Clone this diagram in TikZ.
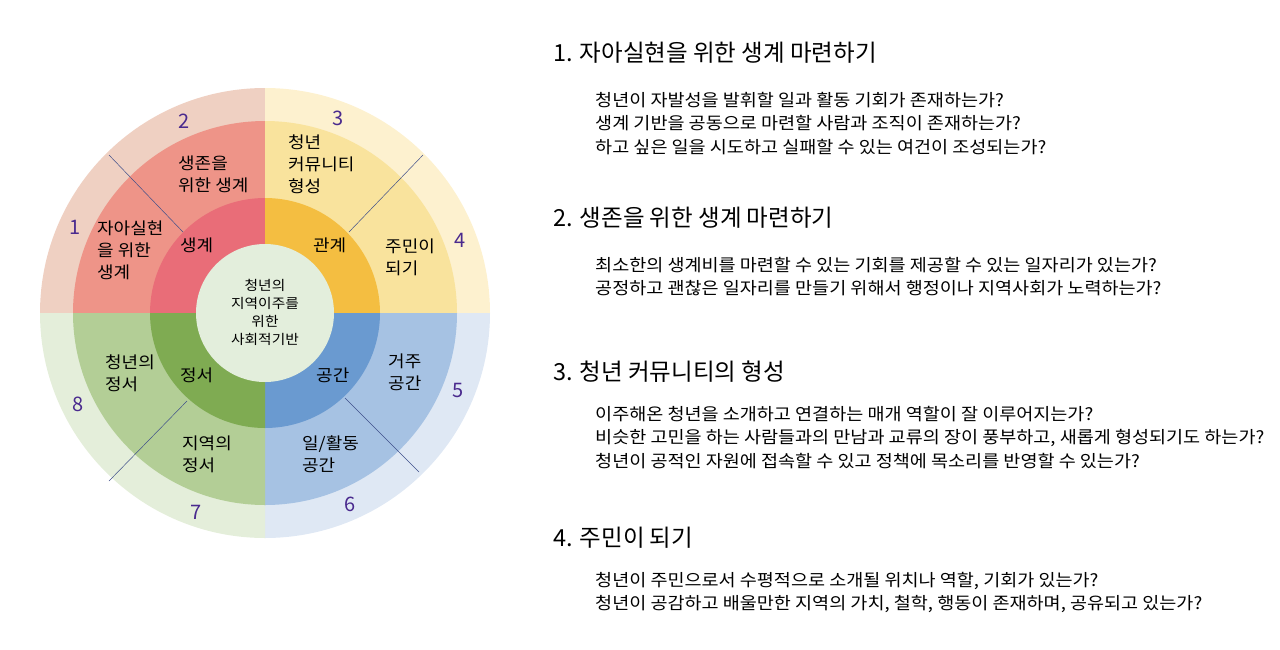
\documentclass[tikz,border=0pt]{standalone}
\usepackage{fontspec}
\setmainfont{Noto Sans CJK KR}
\newfontfamily\widefont[FakeStretch=1.09]{Noto Sans CJK KR}
\begin{document}
\begin{tikzpicture}[x=1pt,y=-1pt,
  lbl/.style={font=\widefont\fontsize{16.5}{22}\selectfont,align=left,anchor=west,inner sep=0},
  num/.style={font=\fontsize{20}{20}\selectfont,text=numc,inner sep=0},
  head/.style={font=\fontsize{23.5}{24}\selectfont,anchor=west,inner sep=0},
  body/.style={font=\widefont\fontsize{17}{23.5}\selectfont,align=left,anchor=north west,inner sep=0},
  sep/.style={draw=sepc,line width=0.5pt}]
\definecolor{numc}{HTML}{4A2A8E}\definecolor{sepc}{HTML}{3F4F8A}
\definecolor{oA}{HTML}{EFD0C2}\definecolor{mA}{HTML}{EE9488}\definecolor{iA}{HTML}{E96D78}
\definecolor{oB}{HTML}{FDF1CF}\definecolor{mB}{HTML}{F9E39D}\definecolor{iB}{HTML}{F4BE41}
\definecolor{oC}{HTML}{DFE8F4}\definecolor{mC}{HTML}{A6C2E3}\definecolor{iC}{HTML}{6A9AD0}
\definecolor{oD}{HTML}{E4EEDA}\definecolor{mD}{HTML}{B3CE96}\definecolor{iD}{HTML}{7FAB52}
\definecolor{cc}{HTML}{E3EEDC}
\useasboundingbox (0,0) rectangle (1280,649);
\coordinate (c) at (265,313);
\newcommand\myquad[4]{\fill[#1] (c) -- ++(#2:#4) arc[start angle=#2,end angle=#3,radius=#4] -- cycle;}
\myquad{oA}{180}{270}{225}\myquad{oB}{270}{360}{225}\myquad{oC}{0}{90}{225}\myquad{oD}{90}{180}{225}
\myquad{mA}{180}{270}{192}\myquad{mB}{270}{360}{192}\myquad{mC}{0}{90}{192}\myquad{mD}{90}{180}{192}
\myquad{iA}{180}{270}{115}\myquad{iB}{270}{360}{115}\myquad{iC}{0}{90}{115}\myquad{iD}{90}{180}{115}
\fill[cc] (c) circle[radius=69];
\coordinate (a1) at (109,155);\coordinate (b1) at (183,232);
\coordinate (a2) at (423,155);\coordinate (b2) at (349,232);
\coordinate (a3) at (109,481);\coordinate (b3) at (187,401);
\coordinate (a4) at (419,472);\coordinate (b4) at (345,398);
\draw[sep] (a1)--(b1); \draw[sep] (a2)--(b2); \draw[sep] (a3)--(b3); \draw[sep] (a4)--(b4);
\node[font=\widefont\fontsize{13.5}{18}\selectfont,align=center] (ctr) at (265,312) {청년의\\지역이주를\\위한\\사회적기반};
\node[lbl] (g1) at (180,245) {생계};
\node[lbl] (g2) at (313,245) {관계};
\node[lbl] (g3) at (180,375) {정서};
\node[lbl] (g4) at (316,375) {공간};
\node[lbl] (s2) at (178,174) {생존을\\위한 생계};
\node[lbl] (s1) at (97,250) {자아실현\\을 위한\\생계};
\node[lbl] (s3) at (288,164) {청년\\커뮤니티\\형성};
\node[lbl] (s4) at (385,257) {주민이\\되기};
\node[lbl] (s5) at (388,372) {거주\\공간};
\node[lbl] (s6) at (302,454) {일/활동\\공간};
\node[lbl] (s7) at (182,454) {지역의\\정서};
\node[lbl] (s8) at (105,373) {청년의\\정서};
\node[num] (n1) at (75,227) {1};\node[num] (n2) at (184,121) {2};
\node[num] (n3) at (338,118) {3};\node[num] (n4) at (460,240) {4};
\node[num] (n5) at (458,390) {5};\node[num] (n6) at (350,504) {6};
\node[num] (n7) at (196,512) {7};\node[num] (n8) at (78,404) {8};
\node[head] (h1) at (553,53) {1. 자아실현을 위한 생계 마련하기};
\node[body] (t1) at (595,92) {청년이 자발성을 발휘할 일과 활동 기회가 존재하는가?\\생계 기반을 공동으로 마련할 사람과 조직이 존재하는가?\\하고 싶은 일을 시도하고 실패할 수 있는 여건이 조성되는가?};
\node[head] (h2) at (553,218) {2. 생존을 위한 생계 마련하기};
\node[body] (t2) at (595,257) {최소한의 생계비를 마련할 수 있는 기회를 제공할 수 있는 일자리가 있는가?\\공정하고 괜찮은 일자리를 만들기 위해서 행정이나 지역사회가 노력하는가?};
\node[head] (h3) at (553,372) {3. 청년 커뮤니티의 형성};
\node[body] (t3) at (595,406) {이주해온 청년을 소개하고 연결하는 매개 역할이 잘 이루어지는가?\\비슷한 고민을 하는 사람들과의 만남과 교류의 장이 풍부하고, 새롭게 형성되기도 하는가?\\청년이 공적인 자원에 접속할 수 있고 정책에 목소리를 반영할 수 있는가?};
\node[head] (h4) at (553,538) {4. 주민이 되기};
\node[body] (t4) at (595,572) {청년이 주민으로서 수평적으로 소개될 위치나 역할, 기회가 있는가?\\청년이 공감하고 배울만한 지역의 가치, 철학, 행동이 존재하며, 공유되고 있는가?};
\end{tikzpicture}
\end{document}
